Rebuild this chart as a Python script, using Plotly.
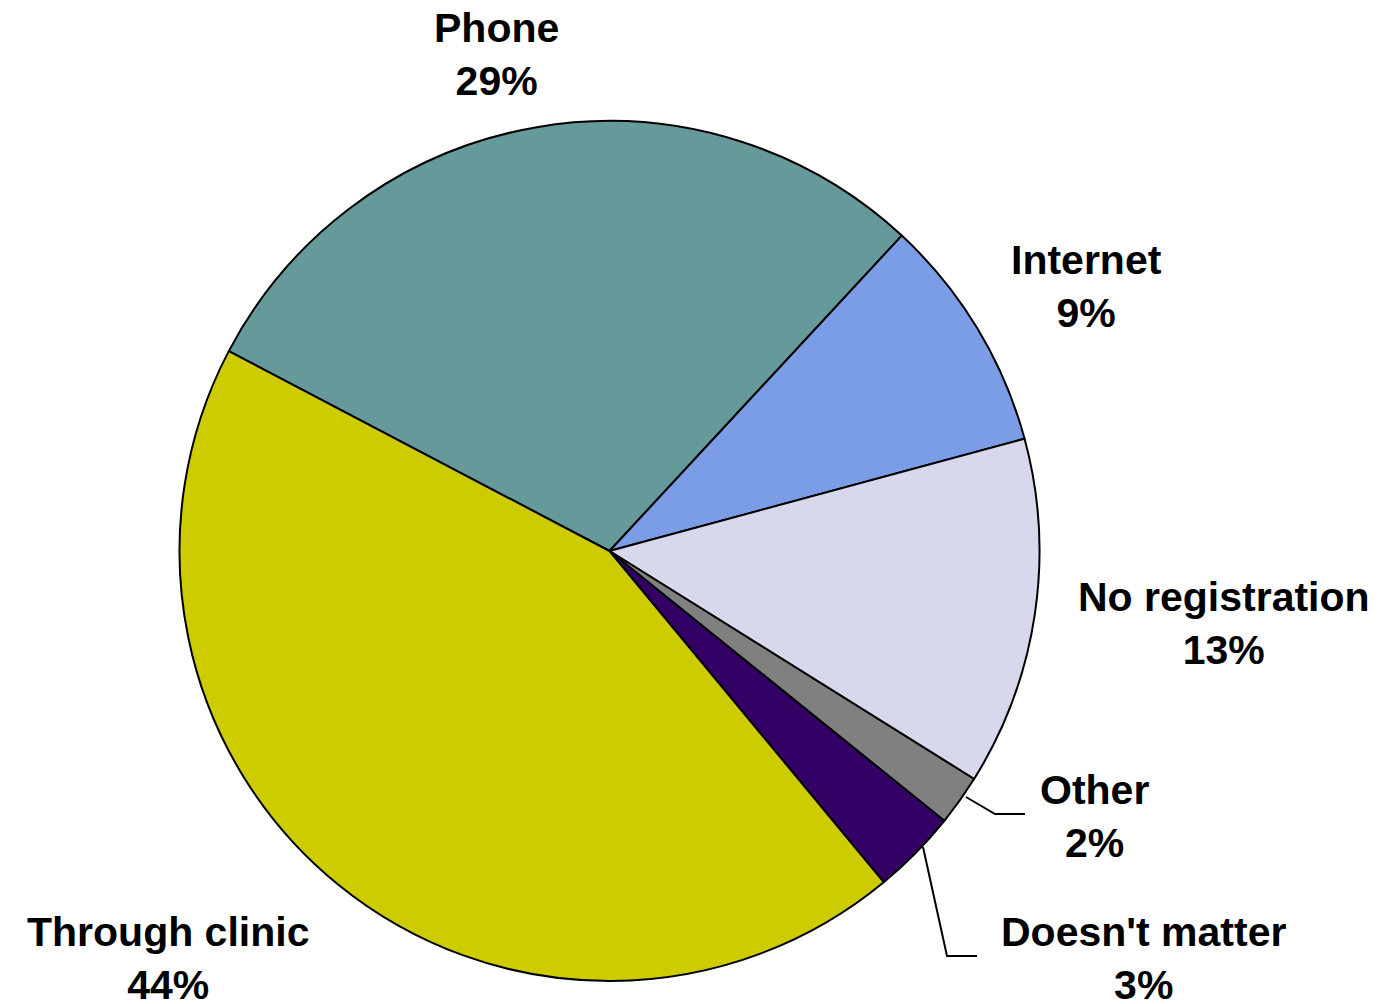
import plotly.graph_objects as go

# ---- data ----
labels = ["Phone", "Internet", "No registration", "Other", "Doesn't matter", "Through clinic"]
values = [29.2, 8.9, 13.1, 1.9, 3.2, 43.7]
colors = ["#669999", "#7B9DE6", "#D7D8EC", "#808080", "#330066", "#CCCC00"]

# page offset (default body margin) and figure size
OX, OY = 8, 8
W, H = 1391 - OX, 1004 - OY
cx, cy, R = 609.5, 551, 430  # pixel geometry of the pie in the screenshot

# label positions (screenshot pixels, centre of text block)
label_pos = {
    "Phone": (496, 54),
    "Internet": (1086, 287),
    "No registration": (1224, 623),
    "Other": (1094, 816),
    "Doesn't matter": (1143, 958),
    "Through clinic": (168, 958),
}

# leader lines (screenshot pixels)
leaders = [
    [(966, 797), (995, 814), (1025, 814)],
    [(923, 847), (947, 956), (977, 956)],
]


def px(x):
    return (x - OX) / W


def py(y):
    return 1 - (y - OY) / H


fig = go.Figure(
    go.Pie(
        labels=labels,
        values=values,
        sort=False,
        direction="clockwise",
        rotation=-62.3,
        marker=dict(colors=colors, line=dict(color="black", width=2)),
        textinfo="none",
        hoverinfo="label+percent",
        domain=dict(x=[px(cx - R), px(cx + R)], y=[py(cy + R), py(cy - R)]),
        showlegend=False,
    )
)

total = sum(values)
annotations = []
for lab, v in zip(labels, values):
    x, y = label_pos[lab]
    annotations.append(
        dict(
            x=px(x), y=py(y), xref="paper", yref="paper",
            xanchor="center", yanchor="middle",
            text=f"<b>{lab}<br>{round(v / total * 100)}%</b>",
            showarrow=False,
            font=dict(family="Liberation Sans, Arial, sans-serif", size=41, color="black"),
        )
    )

shapes = []
for pts in leaders:
    path = "M " + " L ".join(f"{px(x):.5f},{py(y):.5f}" for x, y in pts)
    shapes.append(dict(type="path", path=path, xref="paper", yref="paper",
                       line=dict(color="black", width=2)))

fig.update_layout(
    width=W, height=H,
    margin=dict(l=0, r=0, t=0, b=0),
    paper_bgcolor="white",
    plot_bgcolor="white",
    annotations=annotations,
    shapes=shapes,
)

fig.write_html("out.html")
